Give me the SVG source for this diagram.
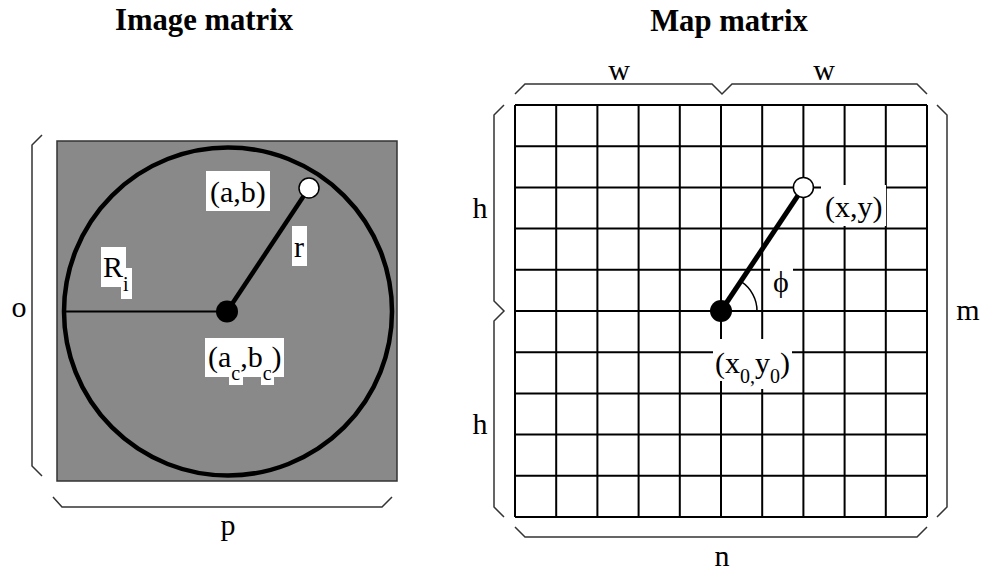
<svg xmlns="http://www.w3.org/2000/svg" width="987" height="573" viewBox="0 0 987 573">
<style>
text{font-family:"Liberation Serif","Times New Roman",serif;font-size:30px;fill:#000}
.title{font-weight:bold;font-size:30.7px}
.mid{text-anchor:middle}
.sub{font-size:20px}
.brace{fill:none;stroke:#333;stroke-width:1.5}
.grid{stroke:#000;stroke-width:2}
.lbl{fill:#fff}
</style>
<rect width="987" height="573" fill="#fff"/>
<g id="titles">
<text class="title mid" x="204" y="30">Image matrix</text>
<text class="title mid" x="729" y="31">Map matrix</text>
</g>
<g id="image-matrix">
<rect x="57" y="141" width="340" height="340" fill="#898989" stroke="#333" stroke-width="1.5"/>
<circle cx="228" cy="311.5" r="164" fill="none" stroke="#000" stroke-width="4.5"/>
<line x1="64" y1="311.5" x2="227" y2="311.5" stroke="#000" stroke-width="2"/>
<line x1="227" y1="311.5" x2="309" y2="188" stroke="#000" stroke-width="4.5"/>
<circle cx="227" cy="311.5" r="11" fill="#000"/>
<circle cx="309" cy="188" r="10" fill="#fff" stroke="#000" stroke-width="1.5"/>
</g>
<g id="label-ab">
<rect class="lbl" x="206" y="171" width="64" height="40"/>
<text x="210" y="202">(a,b)</text>
</g>
<g id="label-r">
<rect class="lbl" x="292" y="226" width="15" height="40"/>
<text x="294" y="257">r</text>
</g>
<g id="label-Ri">
<rect class="lbl" x="101" y="247" width="25" height="40"/>
<rect class="lbl" x="121" y="268" width="11" height="31"/>
<text x="103" y="277">R<tspan class="sub" dy="14">i</tspan></text>
</g>
<g id="label-acbc">
<rect class="lbl" x="205" y="338" width="79" height="39"/>
<rect class="lbl" x="229" y="338" width="14" height="47"/>
<rect class="lbl" x="261" y="338" width="13" height="47"/>
<text x="208" y="367">(a<tspan class="sub" dy="13">c</tspan><tspan dy="-13">,b</tspan><tspan class="sub" dy="13">c</tspan><tspan dy="-13">)</tspan></text>
</g>
<g id="brace-o">
<path class="brace" d="M42 135 L32 145 L32 466 L42 476"/>
<text class="mid" x="19" y="317">o</text>
</g>
<g id="brace-p">
<path class="brace" d="M53 497 L62 507 L382 507 L392 497"/>
<text class="mid" x="228" y="535">p</text>
</g>
<g id="map-grid">
<path class="grid" fill="none" d="M515 105H927M515 146.2H927M515 187.4H927M515 228.6H927M515 269.8H927M515 311H927M515 352.2H927M515 393.4H927M515 434.6H927M515 475.8H927M515 517H927
M515 105V517M556.2 105V517M597.4 105V517M638.6 105V517M679.8 105V517M721 105V517M762.2 105V517M803.4 105V517M844.6 105V517M885.8 105V517M927 105V517"/>
</g>
<g id="label-phi">
<rect class="lbl" x="770" y="267" width="23" height="38"/>
<text class="mid" x="781" y="292">ϕ</text>
</g>
<g id="label-xy">
<rect class="lbl" x="821" y="185" width="65" height="41"/>
<text x="825" y="217">(x,y)</text>
</g>
<g id="label-x0y0">
<rect class="lbl" x="713" y="339" width="79" height="42"/>
<rect class="lbl" x="740" y="339" width="43" height="50"/>
<text x="715" y="373">(x<tspan class="sub" dy="10">0,</tspan><tspan dy="-10">y</tspan><tspan class="sub" dy="10">0</tspan><tspan dy="-10">)</tspan></text>
</g>
<g id="connectors">
<path d="M757 311 A35 35 0 0 0 741.2 281.7" fill="none" stroke="#000" stroke-width="1.5"/>
<line x1="721" y1="311" x2="803.4" y2="187.4" stroke="#000" stroke-width="5"/>
</g>
<g id="points">
<circle cx="721" cy="311" r="11" fill="#000"/>
<circle cx="803.4" cy="187.4" r="10" fill="#fff" stroke="#000" stroke-width="1.5"/>
</g>
<g id="brace-w">
<path class="brace" d="M515 94 L525 84 L712 84 L722 94 L732 84 L917 84 L927 94"/>
<text class="mid" x="619" y="80">w</text>
<text class="mid" x="824" y="80">w</text>
</g>
<g id="brace-h">
<path class="brace" d="M504 105 L494 115 L494 301 L504 311 L494 321 L494 507 L504 517"/>
<text class="mid" x="480" y="218">h</text>
<text class="mid" x="480" y="434">h</text>
</g>
<g id="brace-m">
<path class="brace" d="M937 105 L947 115 L947 507 L937 517"/>
<text class="mid" x="968" y="320">m</text>
</g>
<g id="brace-n">
<path class="brace" d="M515 527 L525 537 L917 537 L927 527"/>
<text class="mid" x="722" y="566">n</text>
</g>
</svg>
